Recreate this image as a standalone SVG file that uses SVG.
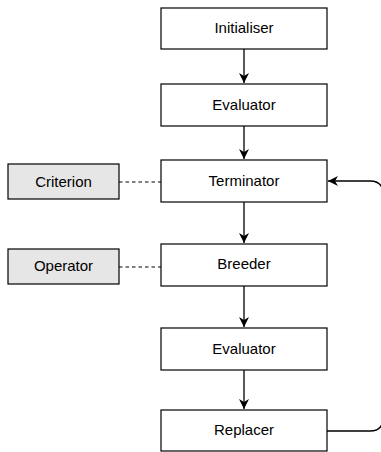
<svg xmlns="http://www.w3.org/2000/svg" width="381" height="452" viewBox="0 0 381 452">
<style>
.box{fill:#fff;stroke:#000;stroke-width:1.2}
.side{fill:#e6e6e6;stroke:#000;stroke-width:1.2}
.lbl{font-family:"Liberation Sans",Arial,sans-serif;font-size:15px;text-anchor:middle;fill:#000}
.edge{fill:none;stroke:#000;stroke-width:1.3}
.dash{fill:none;stroke:#000;stroke-width:1.1;stroke-dasharray:3.5,3}
</style>
<defs>
<marker id="arr" markerWidth="11" markerHeight="10" refX="10" refY="5" orient="auto" markerUnits="userSpaceOnUse">
<path d="M0,0 L10,5 L0,10 L3,5 Z" fill="#000"/>
</marker>
</defs>
<g id="connectors">
<path class="edge" d="M244,49 V83" marker-end="url(#arr)"/>
<path class="edge" d="M244,126 V159" marker-end="url(#arr)"/>
<path class="edge" d="M244,202 V243" marker-end="url(#arr)"/>
<path class="edge" d="M244,286 V327" marker-end="url(#arr)"/>
<path class="edge" d="M244,370 V409" marker-end="url(#arr)"/>
<path class="edge" d="M327,431 H370 Q383,431 383,418 V194 Q383,181 370,181 H328" marker-end="url(#arr)"/>
<path class="dash" d="M119,182 H161"/>
<path class="dash" d="M119,267 H161"/>
</g>
<g id="initialiser"><rect class="box" x="161" y="8" width="166" height="41"/><text class="lbl" x="244" y="33">Initialiser</text></g>
<g id="evaluator1"><rect class="box" x="161" y="84" width="166" height="42"/><text class="lbl" x="244" y="110">Evaluator</text></g>
<g id="terminator"><rect class="box" x="161" y="160" width="166" height="42"/><text class="lbl" x="244" y="186">Terminator</text></g>
<g id="breeder"><rect class="box" x="161" y="244" width="166" height="42"/><text class="lbl" x="244" y="269">Breeder</text></g>
<g id="evaluator2"><rect class="box" x="161" y="328" width="166" height="42"/><text class="lbl" x="244" y="354">Evaluator</text></g>
<g id="replacer"><rect class="box" x="161" y="410" width="166" height="41"/><text class="lbl" x="244" y="435">Replacer</text></g>
<g id="criterion"><rect class="side" x="8" y="164" width="111" height="35"/><text class="lbl" x="63.5" y="187">Criterion</text></g>
<g id="operator"><rect class="side" x="8" y="249" width="111" height="35"/><text class="lbl" x="63.5" y="271">Operator</text></g>
</svg>
